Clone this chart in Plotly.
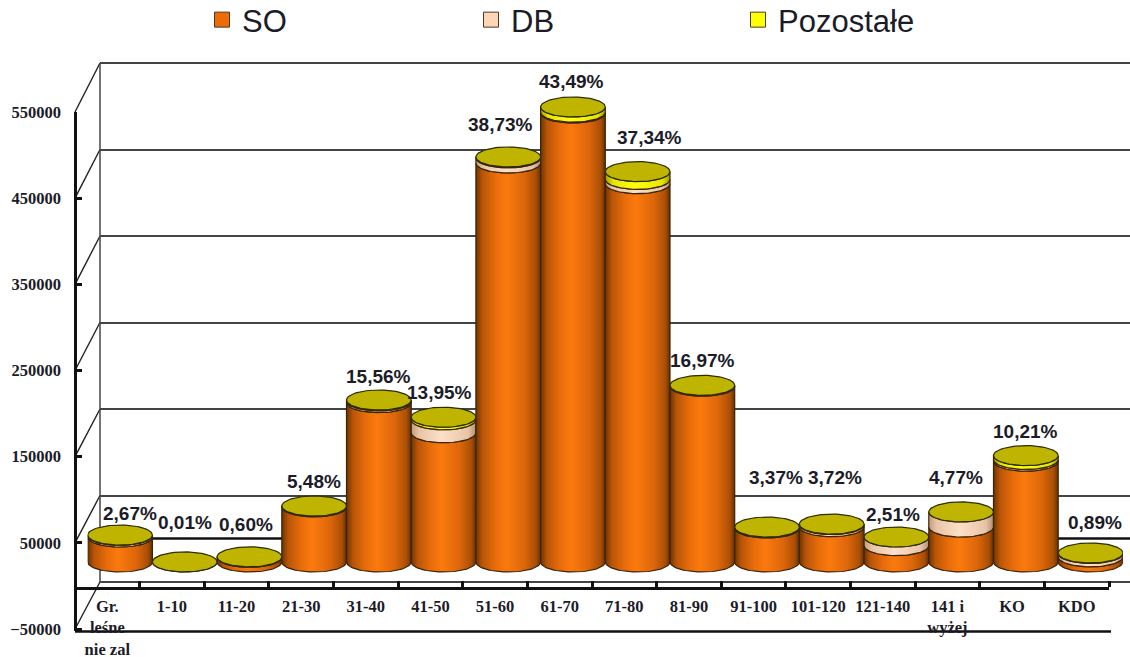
import numpy as np
import plotly.graph_objects as go

categories = ["Gr.<br>leśne<br>nie zal", "1-10", "11-20", "21-30", "31-40", "41-50", "51-60", "61-70",
              "71-80", "81-90", "91-100", "101-120", "121-140", "141 i<br>wyżej", "KO", "KDO"]
so_values = [29000, 100, 5500, 64000, 185000, 150000, 463000, 521000,
             439000, 204000, 39500, 41000, 19000, 40600, 117000, 6000]
db_values = [2000, 0, 500, 500, 2000, 15000, 6000, 1000,
             5000, 500, 700, 2500, 10000, 17500, 2000, 4000]
other_values = [300, 0, 0, 500, 1000, 3000, 1000, 6000,
                9000, 500, 400, 500, 0, 0, 4500, 500]
percent_labels = ["2,67%", "0,01%", "0,60%", "5,48%", "15,56%", "13,95%", "38,73%", "43,49%",
                  "37,34%", "16,97%", "3,37%", "3,72%", "2,51%", "4,77%", "10,21%", "0,89%"]
y_ticks = [-50000, 50000, 150000, 250000, 350000, 450000, 550000]
series_names = ["SO", "DB", "Pozostałe"]

W, H = 1130, 657
label_centres_px = [(130, 513), (185, 522), (246, 524), (314, 481), (378, 376), (439, 392), (500, 124), (571, 81),
                    (649, 137), (702, 360), (776, 477), (835, 477), (893, 514), (956, 477), (1025, 431), (1095, 522)]

SERIF = "Liberation Serif"
SANS = "Liberation Sans"
INK = "#1c1c28"
OUTLINE = "#3a2408"

gradients = [
    [[0, "#6e3400"], [0.1, "#b85508"], [0.3, "#e86c0a"], [0.47, "#fb7a0e"], [0.75, "#dc660a"], [0.93, "#a94e06"], [1, "#653000"]],
    [[0, "#c29a7c"], [0.12, "#e8c4a6"], [0.47, "#fde0c8"], [0.88, "#e8c4a6"], [1, "#b58e70"]],
    [[0, "#9c9c00"], [0.12, "#e6e600"], [0.47, "#ffff10"], [0.88, "#e6e600"], [1, "#9c9c00"]],
]
swatch_colours = ["#ee6c05", "#fdd6b5", "#ffff00"]
TOP_COLOUR = "#bfb500"


def xp(px):
    return px / W


def yp(px):
    return 1 - px / H


fig = go.Figure()

# back wall
fig.add_trace(go.Scatter(x=[None], y=[None], xaxis="x", yaxis="y", showlegend=False, hoverinfo="skip"))
# front axes
fig.add_trace(go.Scatter(x=[None], y=[None], xaxis="x2", yaxis="y2", showlegend=False, hoverinfo="skip"))

# cylinders, drawn on an axis pair displaced into the chart's depth
RX = 0.5
RY = 11600
theta = np.linspace(0, np.pi, 41)
stacks = [so_values, db_values, other_values]
for i in range(len(categories)):
    c = i + 0.5
    base = 0
    for s, values in enumerate(stacks):
        v = values[i]
        if v <= 0:
            continue
        top = base + v
        xb = c - RX * np.cos(theta)
        yb = base - RY * np.sin(theta)
        xt = c + RX * np.cos(theta)
        yt = top - RY * np.sin(theta)
        fig.add_trace(go.Scatter(
            x=np.concatenate([xb, xt, xb[:1]]), y=np.concatenate([yb, yt, yb[:1]]),
            xaxis="x3", yaxis="y3", mode="lines", fill="toself",
            line=dict(color=OUTLINE, width=1.2),
            fillgradient=dict(type="horizontal", colorscale=gradients[s]),
            showlegend=False, hoverinfo="skip", name=series_names[s]))
        base = top
    full = np.linspace(0, 2 * np.pi, 81)
    fig.add_trace(go.Scatter(
        x=c + RX * np.cos(full), y=base + RY * np.sin(full),
        xaxis="x3", yaxis="y3", mode="lines", fill="toself", fillcolor=TOP_COLOUR,
        line=dict(color="#2c2c00", width=1.2), showlegend=False, hoverinfo="skip"))

# legend entries, one legend per entry so that each sits at its own place
for s, name in enumerate(series_names):
    fig.add_trace(go.Scatter(
        x=[None], y=[None], xaxis="x3", yaxis="y3", mode="markers", name=name,
        legend="legend" if s == 0 else f"legend{s + 1}",
        marker=dict(symbol="square", size=15, color=swatch_colours[s], line=dict(color="#4a3a28", width=1))))

legend_style = dict(font=dict(family=SANS, size=31, color=INK), bgcolor="rgba(0,0,0,0)",
                    yanchor="middle", xanchor="left", y=yp(20), itemsizing="trace")

shapes = []
# depth lines from the front axis to the back wall
for t in y_ticks:
    fy = 112 + (550000 - t) * 517 / 600000
    by = 63 + (550000 - t) * 519 / 600000
    shapes.append(dict(type="line", xref="paper", yref="paper", x0=xp(75), x1=xp(100), y0=yp(fy), y1=yp(by),
                       line=dict(color="#222222", width=1.4), layer="below"))
# heavy line behind the short cylinders and the base line of the front panel
shapes.append(dict(type="line", xref="paper", yref="paper", x0=xp(100), x1=1, y0=yp(538.5), y1=yp(538.5),
                   line=dict(color="#111111", width=2.4), layer="below"))
shapes.append(dict(type="line", xref="paper", yref="paper", x0=xp(75), x1=xp(1111), y0=yp(631.5), y1=yp(631.5),
                   line=dict(color="#111111", width=2.4), layer="below"))

annotations = [dict(text=t, xref="paper", yref="paper", x=xp(px), y=yp(py), showarrow=False,
                    xanchor="center", yanchor="middle",
                    font=dict(family=SANS, size=19, color=INK, weight="bold"))
               for t, (px, py) in zip(percent_labels, label_centres_px)]

n = len(categories)
fig.update_layout(
    width=W, height=H, autosize=False,
    margin=dict(l=0, r=0, t=0, b=0, autoexpand=False),
    paper_bgcolor="white", plot_bgcolor="rgba(0,0,0,0)",
    shapes=shapes, annotations=annotations,
    legend=dict(x=xp(202), **legend_style),
    legend2=dict(x=xp(471), **legend_style),
    legend3=dict(x=xp(738), **legend_style),
    # back wall: the range runs past the outer ticks so that their grid lines are kept
    xaxis=dict(domain=[xp(100), 1], range=[0, 1030 / 64.625], visible=False, anchor="y"),
    yaxis=dict(domain=[yp(584.6), yp(60.4)], range=[-53000, 553000], anchor="x", side="left",
               tickmode="array", tickvals=y_ticks, showticklabels=False, ticks="",
               showgrid=True, gridcolor="#444444", gridwidth=1.5, zeroline=False,
               showline=False),
    # front axes
    xaxis2=dict(domain=[xp(75), xp(1109)], range=[0, n], anchor="free", position=yp(588), side="bottom",
                tickmode="array", tickvals=[i + 0.5 for i in range(n)], ticktext=categories,
                ticks="", showgrid=False, zeroline=False, showline=True, linecolor="#111111", linewidth=2.6,
                tickangle=0, ticklabelstandoff=2,
                tickfont=dict(family=SERIF, size=16.5, color=INK, weight="bold"),
                minor=dict(tickmode="array", tickvals=list(range(n + 1)), ticks="inside",
                           ticklen=6, tickwidth=2.6, tickcolor="#111111", showgrid=False)),
    yaxis2=dict(domain=[yp(631), yp(112)], range=[-52320, 550000], anchor="free", position=xp(75), side="left",
                tickmode="array", tickvals=y_ticks, ticks="inside", ticklen=5, tickwidth=2.6, tickcolor="#111111",
                ticklabelstandoff=10, showgrid=False, zeroline=False,
                showline=True, linecolor="#111111", linewidth=2.6, tickformat="d",
                tickfont=dict(family=SERIF, size=16.5, color=INK, weight="bold")),
    # cylinder plane
    xaxis3=dict(domain=[xp(87.7), xp(87.7 + 64.7 * n)], range=[0, n], visible=False, anchor="y3"),
    yaxis3=dict(domain=[yp(605.1), yp(88)], range=[-50000, 550000], visible=False, anchor="x3"),
)
# upright edge of the back wall
fig.add_shape(type="line", xref="paper", yref="paper", x0=xp(100), x1=xp(100), y0=yp(63), y1=yp(582),
              line=dict(color="#444444", width=1.5), layer="below")

fig.write_html("out.html", config=dict(displayModeBar=False), post_script="document.body.style.margin='0';")
